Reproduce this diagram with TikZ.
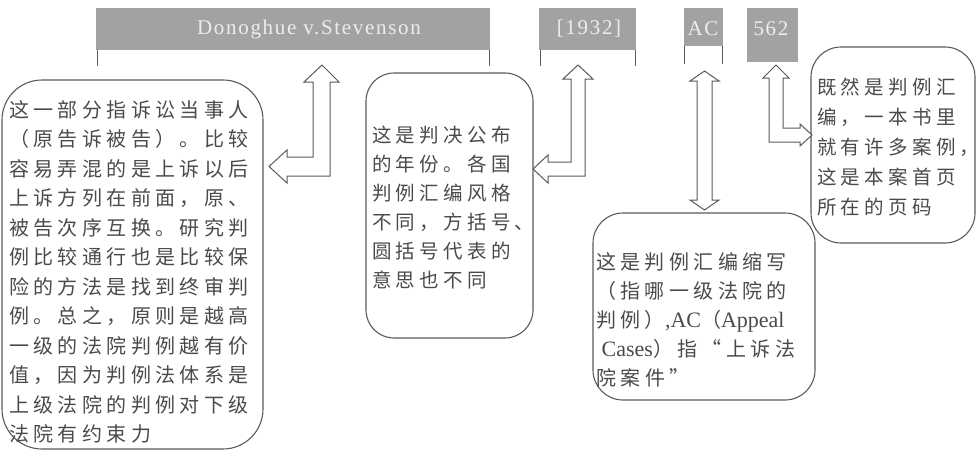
\documentclass[tikz,border=0pt]{standalone}
\usepackage{fontspec}
\setmainfont{Liberation Serif}
\newfontfamily\cjk[LetterSpace=22]{Noto Sans CJK SC}
\newfontfamily\lat{Liberation Serif}
\newfontfamily\barfont[LetterSpace=8]{Liberation Serif}
\definecolor{barfill}{HTML}{A2A2A2}
\definecolor{ink}{HTML}{4A4A4A}
\definecolor{edge}{HTML}{5A5A5A}
\definecolor{bartext}{HTML}{EDEDED}
\tikzset{
  bar/.style={fill=barfill, draw=none},
  tick/.style={draw=edge, line width=0.9pt},
  note/.style={draw=edge, line width=1.1pt},
  blockarrow/.style={draw=edge, fill=white, line width=1pt, line join=miter},
  bartxt/.style={text=bartext, font=\barfont\fontsize{21}{24}\selectfont, inner sep=0pt},
  notetxt/.style={text=ink, font=\cjk\fontsize{20}{29.5}\selectfont, align=left, anchor=base west, inner sep=0pt}
}
\begin{document}
\begin{tikzpicture}[x=1pt,y=-1pt]
\useasboundingbox (0,0) rectangle (979,452);
% bars
\fill[bar] (96,8) rectangle (490,50);
\fill[bar] (539,8) rectangle (636,50);
\fill[bar] (684,8) rectangle (723,46);
\fill[bar] (747,8) rectangle (798,62);
\node[bartxt] (t1) at (309,29) {Donoghue v.Stevenson};
\node[bartxt] (t2) at (589,29) {[1932]};
\node[bartxt] (t3) at (703,29) {AC};
\node[bartxt] (t4) at (771,29) {562};
% ticks
\draw[tick] (97,50) -- (97,66);
\draw[tick] (489,50) -- (489,66);
\draw[tick] (540,50) -- (540,66);
\draw[tick] (635,50) -- (635,66);
\draw[tick] (684.5,46) -- (684.5,64);
\draw[tick] (722.5,46) -- (722.5,64);
% boxes
\draw[note, rounded corners=40pt] (2,80) rectangle (263,449);
\draw[note, rounded corners=28pt] (366,73) rectangle (533,338);
\draw[note, rounded corners=30pt] (593,213) rectangle (815,400);
\draw[note, rounded corners=30pt] (811,47) rectangle (975,243);
% texts (anchor = baseline of the last line)
\node[notetxt] (n1) at (9,441.5) {这一部分指诉讼当事人\\（原告诉被告）。比较\\容易弄混的是上诉以后\\上诉方列在前面，原、\\被告次序互换。研究判\\例比较通行也是比较保\\险的方法是找到终审判\\例。总之，原则是越高\\一级的法院判例越有价\\值，因为判例法体系是\\上级法院的判例对下级\\法院有约束力};
\node[notetxt, font=\cjk\fontsize{19.5}{29}\selectfont] (n2) at (372,287.5) {这是判决公布\\的年份。各国\\判例汇编风格\\不同，方括号、\\圆括号代表的\\意思也不同};
\node[notetxt, font=\cjk\fontsize{20}{29}\selectfont] (n3) at (596,385.5) {这是判例汇编缩写\\（指哪一级法院的\\判例）{\lat\fontsize{22}{29}\selectfont,AC}（{\lat\fontsize{22}{29}\selectfont Appeal}\\{\lat\fontsize{22}{29}\selectfont\ Cases}）指“上诉法\\院案件”};
\node[notetxt, font=\cjk\fontsize{19.5}{30}\selectfont] (n4) at (817,214.5) {既然是判例汇\\编，一本书里\\就有许多案例，\\这是本案首页\\所在的页码};
% block arrows
\draw[blockarrow] (322,65) -- (339,82) -- (330,82) -- (330,176) -- (287,176) -- (287,183) -- (269,166.5) -- (287,150) -- (287,157) -- (313,157) -- (313,82) -- (304,82) -- cycle;
\draw[blockarrow] (578,65) -- (593,79) -- (585,79) -- (585,176) -- (548,176) -- (548,183) -- (533,169) -- (548,155) -- (548,162) -- (571,162) -- (571,79) -- (563,79) -- cycle;
\draw[blockarrow] (704.5,71) -- (719,81) -- (712,81) -- (712,200) -- (719,200) -- (704.5,210) -- (690,200) -- (697,200) -- (697,81) -- (690,81) -- cycle;
\draw[blockarrow] (776,65) -- (789,78) -- (783,78) -- (783,128) -- (800,128) -- (800,124) -- (812,135) -- (800,146) -- (800,142) -- (769,142) -- (769,78) -- (763,78) -- cycle;
\end{tikzpicture}
\end{document}
